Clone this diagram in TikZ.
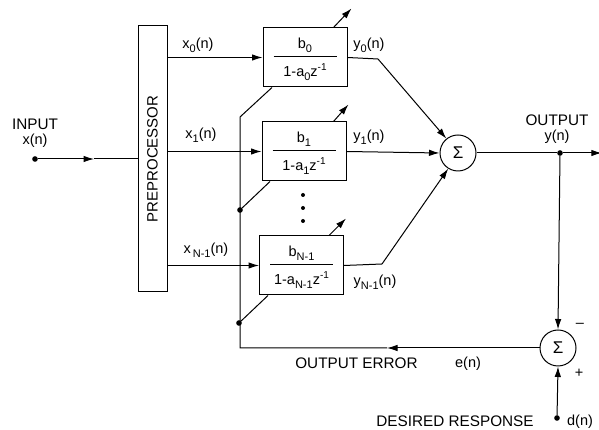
\documentclass[tikz,border=0pt]{standalone}
\usepackage{fontspec}
\setmainfont{Liberation Sans}
\usetikzlibrary{positioning,arrows.meta}
\newcommand{\subtxt}[1]{\raisebox{-.5ex}{\fontsize{11}{11}\selectfont #1}}
\newcommand{\suptxt}[1]{\raisebox{.8ex}{\fontsize{10}{10}\selectfont #1}}
\newcommand{\filtfrac}[2]{\setlength{\arrayrulewidth}{1pt}\setlength{\tabcolsep}{0pt}\begin{tabular}{c}\rule[-8pt]{0pt}{24pt}\makebox[63pt]{#1}\\\hline\rule[-6pt]{0pt}{25pt}#2\end{tabular}}

\begin{document}
\begin{tikzpicture}[x=1pt,y=1pt,>={Latex[length=10.5pt,width=6.5pt]}, line width=1pt, every node/.style={font=\fontsize{14.5}{16.5}\selectfont}, filt/.style={draw,minimum width=84pt,minimum height=59pt,inner sep=0pt}, summer/.style={draw,circle,minimum size=36pt,inner sep=0pt,font=\fontsize{17}{17}\selectfont}, dot/.style={draw,fill=black,circle,minimum size=4.5pt,inner sep=0pt}, vdot/.style={fill=black,circle,minimum size=4pt,inner sep=0pt}, lbl/.style={inner sep=0pt,align=center}, capslbl/.style={lbl,font=\fontsize{15.3}{16.5}\selectfont}]
\useasboundingbox (0,0) rectangle (599,430);
\node[draw,minimum width=29pt,minimum height=266pt,inner sep=0pt,font=\fontsize{15}{16}\selectfont] (prep) at (152.5,271) {\rotatebox{90}{PREPROCESSOR}};
\node[dot] (in) at (35,271) {};
\coordinate (inmid) at (94,271);
\node[filt] (f0) at (305,372.5) {\filtfrac{b\subtxt{0}}{1-a\subtxt{0}z\suptxt{-1}}};
\node[filt,below=34pt of f0,xshift=-1pt] (f1) {\filtfrac{b\subtxt{1}}{1-a\subtxt{1}z\suptxt{-1}}};
\node[filt,below=54pt of f1,xshift=-2.5pt] (fN) {\filtfrac{b\subtxt{N-1}}{1-a\subtxt{N-1}z\suptxt{-1}}};
\node[vdot] (v0) at (303,235) {};
\node[vdot,below=8pt of v0] (v1) {};
\node[vdot,below=8pt of v1] (v2) {};
\node[summer] (sum1) at (458,277) {Σ};
\node[summer] (sum2) at (558,82) {Σ};
\node[dot] (ytap) at (560,277) {};
\node[dot] (dres) at (557,12) {};
\node[dot] (bus1) at (240,220) {};
\node[dot] (bus2) at (239,107) {};
\coordinate (bustop) at (240,313);
\coordinate (buscorner) at (240,82);
\coordinate (errmid) at (387,82);
\coordinate (bend0) at (378,371);
\coordinate (bendN) at (382,166);
\coordinate[right=39pt of ytap] (yend);
% signal path
\draw[->] (in) -- (inmid);
\draw (inmid) -- (prep.west |- in);
\draw[->] (prep.east |- f0.west) -- (f0.west);
\draw[->] (prep.east |- f1.west) -- (f1.west);
\draw[->] (prep.east |- fN.west) -- (fN.west);
\draw (f0.east) -- (bend0);
\draw[->] (bend0) -- (sum1.129);
\draw[->] (f1.east) -- (sum1.west);
\draw (fN.east) -- (bendN);
\draw[->] (bendN) -- (sum1.238);
\draw (sum1.east) -- (ytap);
\draw[->] (ytap) -- (yend);
\draw[->] (ytap) -- (sum2.north);
\draw[->] (dres) -- (sum2.south);
% error feedback
\draw[->] (sum2.west) -- (errmid);
\draw (errmid) -- (buscorner) -- (bustop) -- ([xshift=-33pt]f0.south);
\draw (bus1) -- ([xshift=-34pt]f1.south);
\draw (bus2) -- ([xshift=-33.5pt]fN.south);
\draw[->] ([xshift=-14pt]f0.north east) -- ++(18,19);
\draw[->] ([xshift=-13pt]f1.north east) -- ++(15,17);
\draw[->] ([xshift=-15pt]fN.north east) -- ++(17,17);
% labels
\node[capslbl] (inlab) at (35,297) {INPUT\\[-1pt]{\fontsize{14.5}{16.5}\selectfont x(n)}};
\node[lbl] (x0lab) at (198,385) {x\subtxt{0}(n)};
\node[lbl] (x1lab) at (201,295) {x\subtxt{1}(n)};
\node[lbl] (xNlab) at (206,180) {x\subtxt{\,N-1}(n)};
\node[lbl] (y0lab) at (369,385) {y\subtxt{0}(n)};
\node[lbl] (y1lab) at (369,293) {y\subtxt{1}(n)};
\node[lbl] (yNlab) at (375,148) {y\subtxt{N-1}(n)};
\node[capslbl] (outlab) at (557,301) {OUTPUT\\[-1pt]{\fontsize{14.5}{16.5}\selectfont y(n)}};
\node[capslbl] (errlab) at (356.5,67) {OUTPUT ERROR};
\node[lbl] (elab) at (468,66) {e(n)};
\node[capslbl] (dlab) at (455,9) {DESIRED RESPONSE};
\node[lbl] (dnlab) at (580,8) {d(n)};
\node[lbl] (minus) at (580,105) {–};
\node[lbl] (plus) at (579,57) {+};
\end{tikzpicture}
\end{document}
